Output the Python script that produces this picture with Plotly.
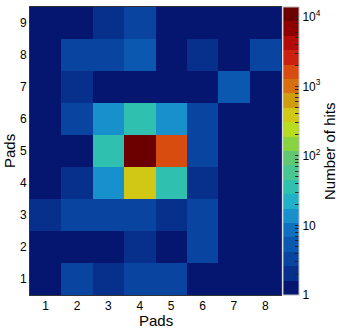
import math
import plotly.graph_objects as go

# Pad grid: 8 columns (x pads) by 9 rows (y pads)
x_pads = [1, 2, 3, 4, 5, 6, 7, 8]
y_pads = [1, 2, 3, 4, 5, 6, 7, 8, 9]

# Number of hits per pad, one list per y pad (row 1 at the bottom)
hits_row1 = [1, 4, 2, 4, 4, 1, 1, 1]
hits_row2 = [1, 1, 1, 2, 1, 4, 1, 1]
hits_row3 = [2, 4, 4, 4, 2, 4, 1, 1]
hits_row4 = [1, 2, 15, 420, 38, 2, 1, 1]
hits_row5 = [1, 1, 38, 12500, 1700, 4, 1, 1]
hits_row6 = [1, 4, 15, 38, 15, 4, 1, 1]
hits_row7 = [1, 2, 1, 1, 1, 1, 6, 1]
hits_row8 = [1, 4, 4, 6, 1, 2, 1, 4]
hits_row9 = [1, 1, 2, 4, 1, 1, 1, 1]

hits = [hits_row1, hits_row2, hits_row3, hits_row4, hits_row5,
        hits_row6, hits_row7, hits_row8, hits_row9]

z_max = 13800  # top of the colour axis

# ROOT-like rainbow palette, 20 contour bands (bottom -> top)
band_colors = [
    '#041670', '#06308c', '#0844a0', '#0a58b0', '#1070c0',
    '#1890cc', '#20b0c8', '#30c0b0', '#48c890', '#60c870',
    '#88d440', '#b8dc20', '#d0c814', '#d09c10', '#d87010',
    '#d84c10', '#cc2010', '#b40c08', '#900000', '#6c0000',
]
n = len(band_colors)
colorscale = []
for k, c in enumerate(band_colors):
    colorscale.append([k / n, c])
    colorscale.append([(k + 1) / n, c])

z = [[math.log10(v) for v in row] for row in hits]
text = [[str(v) for v in row] for row in hits]

# colour bar ticks: decades labelled, minor ticks unlabelled
tickvals = []
ticktext = []
for d in range(5):
    for m in range(1, 10):
        v = m * 10 ** d
        if v > z_max:
            break
        tickvals.append(math.log10(v))
        if m == 1:
            ticktext.append('1' if d == 0 else '10' if d == 1 else f'10<sup>{d}</sup>')
        else:
            ticktext.append(' ')

fig = go.Figure(go.Heatmap(
    x=x_pads, y=y_pads, z=z,
    text=text,
    hovertemplate='x pad %{x}<br>y pad %{y}<br>hits %{text}<extra></extra>',
    colorscale=colorscale,
    zmin=0, zmax=math.log10(z_max),
    xgap=0, ygap=0,
    colorbar=dict(
        x=1.008, xanchor='left', y=0.5, yanchor='middle',
        len=1, lenmode='fraction', thickness=16, xpad=0, ypad=0,
        outlinewidth=1, outlinecolor='#bbbbbb',
        tickvals=tickvals, ticktext=ticktext,
        ticks='inside', ticklen=4, tickcolor='#222222',
        tickfont=dict(size=12, color='black'),
    ),
))

fig.update_layout(
    width=339, height=329,
    margin=dict(l=30, r=58, t=7, b=34, autoexpand=False),
    paper_bgcolor='white', plot_bgcolor='white',
    font=dict(family='Liberation Sans, Arial, sans-serif', color='black'),
    annotations=[
        dict(text='Pads', xref='paper', yref='paper', x=0.5, y=0,
             xanchor='center', yanchor='middle', yshift=-25,
             showarrow=False, font=dict(size=15)),
        dict(text='Pads', xref='paper', yref='paper', x=0, y=0.5,
             xanchor='center', yanchor='middle', xshift=-21, textangle=-90,
             showarrow=False, font=dict(size=15)),
        dict(text='Number of hits', xref='paper', yref='paper', x=1, y=0.5,
             xanchor='center', yanchor='middle', xshift=48, textangle=-90,
             showarrow=False, font=dict(size=15)),
    ],
)
fig.update_xaxes(
    tickvals=x_pads, range=[0.5, 8.5], showgrid=False, zeroline=False,
    showline=True, linecolor='#333333', linewidth=1, mirror=True,
    ticks='', tickfont=dict(size=12), automargin=False,
)
fig.update_yaxes(
    tickvals=y_pads, range=[0.5, 9.5], showgrid=False, zeroline=False,
    showline=True, linecolor='#333333', linewidth=1, mirror=True,
    ticks='', tickfont=dict(size=12), automargin=False,
)

# drop the default 8px body margin so the figure fills the window
fig.write_html('out.html', config={'displayModeBar': False},
               post_script="document.body.style.margin='0px';")
